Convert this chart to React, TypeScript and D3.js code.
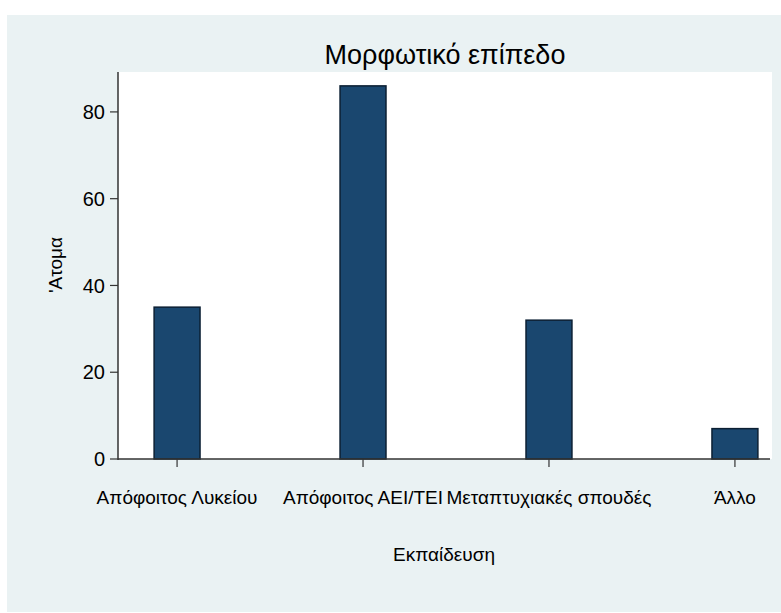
import React from "react";
import * as d3 from "d3";

const categories: string[] = ["Απόφοιτος Λυκείου", "Απόφοιτος ΑΕΙ/ΤΕΙ", "Μεταπτυχιακές σπουδές", "Άλλο"];
const values: number[] = [35, 86, 32, 7];
const yTicks: number[] = [0, 20, 40, 60, 80];
const title = "Μορφωτικό επίπεδο";
const xTitle = "Εκπαίδευση";
const yTitle = "'Ατομα";

const W = 781;
const H = 613;
const FONT = "'Liberation Sans', Arial, sans-serif";

export default function App() {
  const plot = { left: 118, right: 772, top: 72, bottom: 459 };
  const y = d3.scaleLinear().domain([0, 89.2]).range([plot.bottom, plot.top]);
  const x = d3.scaleBand<string>().domain(categories).range([84, 828]).paddingInner(0.753).paddingOuter(0.377);
  const centers = categories.map((c) => (x(c) as number) + x.bandwidth() / 2);

  return (
    <svg width={W} height={H} style={{ position: "absolute", left: 0, top: 0, background: "#ffffff" }}>
      <rect x={7} y={15} width={W - 7} height={597} fill="#EAF2F3" />
      <rect x={plot.left} y={plot.top} width={plot.right - plot.left} height={plot.bottom - plot.top} fill="#ffffff" />
      <text x={445} y={64} textAnchor="middle" fontFamily={FONT} fontSize={27} fill="#000">{title}</text>
      {categories.map((c, i) => (
        <rect key={c} x={x(c)} y={y(values[i])} width={x.bandwidth()} height={plot.bottom - y(values[i])}
          fill="#1A476F" stroke="#0b1f33" strokeWidth={1.5} />
      ))}
      <line x1={plot.left} x2={plot.left} y1={plot.top} y2={plot.bottom + 1} stroke="#333" strokeWidth={1.5} />
      <line x1={plot.left} x2={770} y1={plot.bottom} y2={plot.bottom} stroke="#333" strokeWidth={1.5} />
      {yTicks.map((t) => (
        <g key={t}>
          <line x1={plot.left - 8} x2={plot.left} y1={y(t)} y2={y(t)} stroke="#333" strokeWidth={1.2} />
          <text x={105} y={y(t)} dy="0.36em" textAnchor="end" fontFamily={FONT} fontSize={20} fill="#000">{t}</text>
        </g>
      ))}
      {categories.map((c, i) => (
        <g key={c}>
          <line x1={centers[i]} x2={centers[i]} y1={plot.bottom} y2={plot.bottom + 8} stroke="#333" strokeWidth={1.2} />
          <text x={centers[i]} y={504} textAnchor="middle" fontFamily={FONT} fontSize={19} fill="#000">{c}</text>
        </g>
      ))}
      <text x={444} y={561} textAnchor="middle" fontFamily={FONT} fontSize={19} fill="#000">{xTitle}</text>
      <text transform={`translate(62,265) rotate(-90)`} textAnchor="middle" fontFamily={FONT} fontSize={19} fill="#000">{yTitle}</text>
    </svg>
  );
}
